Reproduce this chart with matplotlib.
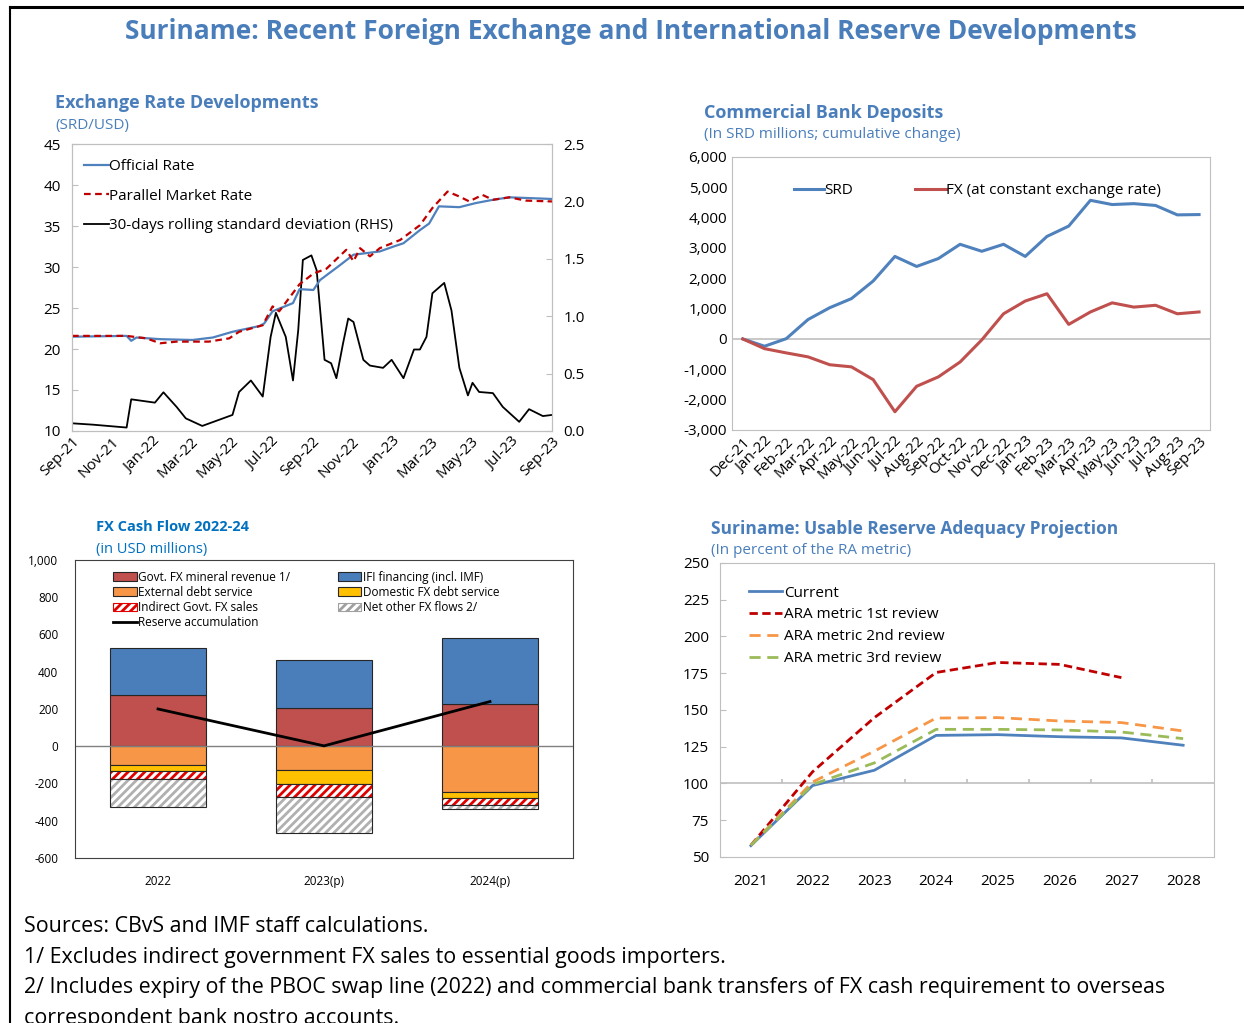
import numpy as np
import pandas as pd
import matplotlib
matplotlib.use("Agg")
import matplotlib.pyplot as plt
import matplotlib.dates as mdates
from matplotlib.lines import Line2D
from matplotlib.patches import Patch

plt.rcParams['font.family'] = ['Open Sans', 'DejaVu Sans']
plt.rcParams['hatch.linewidth'] = 2.0

# ---- data: exchange rate developments (SRD/USD) ----
official_dates = ['2021-09-01', '2021-11-23', '2021-11-30', '2021-12-08', '2022-01-13',
                  '2022-03-03', '2022-04-03', '2022-05-03', '2022-06-13', '2022-06-20',
                  '2022-07-03', '2022-08-03', '2022-08-13', '2022-09-03', '2022-09-13',
                  '2022-10-13', '2022-11-03', '2022-11-23', '2022-12-13', '2023-01-03',
                  '2023-01-18', '2023-02-12', '2023-02-26', '2023-03-13', '2023-04-13',
                  '2023-05-08', '2023-06-03', '2023-06-28', '2023-09-01']
official_rate = [21.5, 21.6, 21.0, 21.4, 21.2, 21.1, 21.4, 22.1, 22.8, 23.1,
                 24.6, 25.6, 27.3, 27.2, 28.4, 30.2, 31.5, 31.7, 31.9, 32.5,
                 32.9, 34.5, 35.3, 37.4, 37.3, 37.8, 38.2, 38.5, 38.3]

parallel_dates = ['2021-09-01', '2021-11-23', '2021-12-23', '2022-01-13', '2022-02-07',
                  '2022-03-28', '2022-04-28', '2022-05-13', '2022-06-18', '2022-07-03',
                  '2022-07-13', '2022-08-13', '2022-09-03', '2022-09-23', '2022-10-23',
                  '2022-11-03', '2022-11-13', '2022-11-28', '2022-12-13', '2023-01-13',
                  '2023-02-12', '2023-03-03', '2023-03-26', '2023-04-13', '2023-04-28',
                  '2023-05-18', '2023-06-03', '2023-06-28', '2023-07-23', '2023-09-01']
parallel_rate = [21.6, 21.6, 21.3, 20.7, 20.9, 20.9, 21.3, 22.1, 22.9, 25.2,
                 24.6, 27.9, 29.2, 29.8, 32.1, 30.7, 32.3, 31.3, 32.3, 33.3,
                 35.1, 37.2, 39.2, 38.6, 38.0, 38.8, 38.2, 38.5, 38.1, 38.0]

std_dates = ['2021-09-01', '2021-10-03', '2021-11-23', '2021-11-30', '2022-01-05',
             '2022-01-18', '2022-02-07', '2022-02-21', '2022-03-18', '2022-05-03',
             '2022-05-13', '2022-05-31', '2022-06-18', '2022-06-30', '2022-07-08',
             '2022-07-23', '2022-08-03', '2022-08-11', '2022-08-18', '2022-08-31',
             '2022-09-08', '2022-09-20', '2022-09-30', '2022-10-08', '2022-10-18',
             '2022-10-26', '2022-11-03', '2022-11-18', '2022-11-28', '2022-12-18',
             '2022-12-31', '2023-01-18', '2023-02-03', '2023-02-12', '2023-02-22',
             '2023-03-03', '2023-03-21', '2023-04-01', '2023-04-13', '2023-04-26',
             '2023-05-03', '2023-05-13', '2023-06-03', '2023-06-18', '2023-07-13',
             '2023-07-28', '2023-08-18', '2023-09-01']
rolling_std = [0.067, 0.055, 0.03, 0.276, 0.247, 0.337, 0.21, 0.11, 0.044, 0.14,
               0.34, 0.44, 0.30, 0.82, 1.03, 0.82, 0.44, 0.88, 1.49, 1.53,
               1.40, 0.62, 0.59, 0.46, 0.76, 0.98, 0.95, 0.62, 0.57, 0.55,
               0.62, 0.46, 0.71, 0.71, 0.82, 1.20, 1.29, 1.05, 0.55, 0.31,
               0.42, 0.34, 0.33, 0.21, 0.08, 0.19, 0.13, 0.14]

# ---- data: commercial bank deposits ----
deposit_months = ['Dec-21', 'Jan-22', 'Feb-22', 'Mar-22', 'Apr-22', 'May-22', 'Jun-22',
                  'Jul-22', 'Aug-22', 'Sep-22', 'Oct-22', 'Nov-22', 'Dec-22', 'Jan-23',
                  'Feb-23', 'Mar-23', 'Apr-23', 'May-23', 'Jun-23', 'Jul-23', 'Aug-23',
                  'Sep-23']
srd_deposits = [0, -240, 10, 640, 1030, 1330, 1910, 2720, 2390, 2650, 3120, 2890,
                3120, 2720, 3380, 3720, 4570, 4430, 4460, 4400, 4090, 4100]
fx_deposits = [0, -320, -460, -590, -850, -920, -1340, -2400, -1560, -1250, -760, -30,
               830, 1250, 1490, 480, 890, 1190, 1050, 1110, 830, 890]

# ---- data: FX cash flow 2022-24 (USD millions) ----
cf_years = ['2022', '2023(p)', '2024(p)']
mineral_revenue = [273, 203, 228]
ifi_financing = [254, 259, 353]
external_debt = [-99, -130, -248]
domestic_debt = [-36, -71, -31]
indirect_sales = [-41, -74, -39]
net_other = [-151, -189, -20]
reserve_accum = [200, 2, 240]

# ---- data: usable reserve adequacy ----
ra_years = ['2021', '2022', '2023', '2024', '2025', '2026', '2027', '2028']
ra_current = [57.7, 98.6, 109.0, 132.7, 133.2, 131.8, 131.0, 126.0]
ra_first = [58.0, 108.0, 144.8, 175.5, 182.3, 181.0, 172.0]
ra_second = [58.0, 101.0, 122.0, 144.5, 144.8, 142.5, 141.4, 135.7]
ra_third = [58.0, 99.3, 114.0, 136.8, 136.8, 136.4, 135.0, 130.5]

BLUE = '#4F81BD'
TITLE_BLUE = '#4A7EBB'
BRIGHT_BLUE = '#0070C0'
GRID = '#BFBFBF'

fig = plt.figure(figsize=(12.44, 10.23), dpi=100)

# frame lines (top and left)
fig.add_artist(Line2D([0.008, 1.0], [0.9935, 0.9935], color='black', lw=2.2))
fig.add_artist(Line2D([0.008, 0.008], [0.0, 0.9935], color='black', lw=1.5))

fig.text(0.507, 0.969, 'Suriname: Recent Foreign Exchange and International Reserve Developments',
         ha='center', va='center', fontsize=19, fontweight='bold', color=TITLE_BLUE)


def panel_title(x, y, title, sub, color, tsize, ssize):
    fig.text(x, y, title, ha='left', va='center', fontsize=tsize, fontweight='bold', color=color)
    fig.text(x, y - 0.0215, sub, ha='left', va='center', fontsize=ssize, color=color)


# ---------------- panel 1: exchange rate ----------------
ax1 = fig.add_axes([0.0579, 0.5787, 0.3859, 0.2805])
ax1r = ax1.twinx()
d_off = pd.to_datetime(official_dates)
d_par = pd.to_datetime(parallel_dates)
d_std = pd.to_datetime(std_dates)
l_std, = ax1r.plot(d_std, rolling_std, color='black', lw=1.3)
l_off, = ax1.plot(d_off, official_rate, color=BLUE, lw=1.6)
l_par, = ax1.plot(d_par, parallel_rate, color='#C00000', lw=1.6, ls=(0, (3, 2)))
ax1.set_zorder(ax1r.get_zorder() + 1)
ax1.patch.set_visible(False)
ax1.set_ylim(10, 45)
ax1r.set_ylim(0, 2.5)
ax1.set_xlim(pd.Timestamp('2021-09-01'), pd.Timestamp('2023-09-01'))
ax1.xaxis.set_major_locator(mdates.MonthLocator(bymonth=[1, 3, 5, 7, 9, 11]))
ax1.xaxis.set_major_formatter(mdates.DateFormatter('%b-%y'))
ax1.set_yticks(np.arange(10, 46, 5))
ax1r.set_yticks(np.arange(0, 2.51, 0.5))
ax1r.yaxis.set_major_formatter(plt.FormatStrFormatter('%.1f'))
for a in (ax1, ax1r):
    for s in a.spines.values():
        s.set_color(GRID)
    a.tick_params(axis='y', direction='in', length=4, color=GRID, labelsize=11, pad=8)
ax1.tick_params(axis='x', length=0, labelsize=11, pad=2)
plt.setp(ax1.get_xticklabels(), rotation=45, ha='right', rotation_mode='anchor')
ax1.legend([l_off, l_par, l_std],
           ['Official Rate', 'Parallel Market Rate', '30-days rolling standard deviation (RHS)'],
           loc='upper left', bbox_to_anchor=(0.0, 0.99), frameon=False, fontsize=11,
           handlelength=1.6, handletextpad=0.0, labelspacing=0.95, borderaxespad=0.4)
panel_title(0.0442, 0.8993, 'Exchange Rate Developments', '(SRD/USD)', TITLE_BLUE, 13, 11)

# ---------------- panel 2: deposits ----------------
ax2 = fig.add_axes([0.5884, 0.5797, 0.3842, 0.2669])
xd = np.arange(len(deposit_months))
ax2.axhline(0, color=GRID, lw=1.2)
ax2.plot(xd, srd_deposits, color=BLUE, lw=2.2, label='SRD')
ax2.plot(xd, fx_deposits, color='#C0504D', lw=2.2, label='FX (at constant exchange rate)')
ax2.set_xlim(-0.5, len(deposit_months) - 0.5)
ax2.set_ylim(-3000, 6000)
ax2.set_yticks(np.arange(-3000, 6001, 1000))
ax2.yaxis.set_major_formatter(plt.FuncFormatter(lambda v, p: f'{v:,.0f}'))
ax2.set_xticks(xd)
ax2.set_xticklabels(deposit_months, rotation=45, ha='right', rotation_mode='anchor')
for s in ax2.spines.values():
    s.set_color(GRID)
ax2.tick_params(axis='both', length=0, labelsize=11)
ax2.tick_params(axis='x', pad=3)
ax2.legend(loc='upper left', bbox_to_anchor=(0.1, 0.955), ncol=2, frameon=False, fontsize=11,
           handlelength=2.0, handletextpad=0.0, columnspacing=4.1)
panel_title(0.566, 0.8897, 'Commercial Bank Deposits', '(In SRD millions; cumulative change)',
            TITLE_BLUE, 13, 11)

# ---------------- panel 3: FX cash flow ----------------
ax3 = fig.add_axes([0.0603, 0.1613, 0.4003, 0.2913])
xc = np.arange(len(cf_years))
w = 0.58
edge = '#262626'
ax3.bar(xc, mineral_revenue, w, color='#C0504D', edgecolor=edge, lw=0.8)
ax3.bar(xc, ifi_financing, w, bottom=mineral_revenue, color='#4A7EBB', edgecolor=edge, lw=0.8)
ax3.bar(xc, external_debt, w, color='#F79646', edgecolor=edge, lw=0.8)
b2 = np.array(external_debt)
ax3.bar(xc, domestic_debt, w, bottom=b2, color='#FFC000', edgecolor=edge, lw=0.8)
b3 = b2 + np.array(domestic_debt)
ax3.bar(xc, indirect_sales, w, bottom=b3, color='white', edgecolor='#E00000', hatch='////', lw=0)
ax3.bar(xc, indirect_sales, w, bottom=b3, fill=False, edgecolor=edge, lw=0.8)
b4 = b3 + np.array(indirect_sales)
ax3.bar(xc, net_other, w, bottom=b4, color='white', edgecolor='#B0B0B0', hatch='////', lw=0)
ax3.bar(xc, net_other, w, bottom=b4, fill=False, edgecolor=edge, lw=0.8)
ax3.axhline(0, color='#808080', lw=1.0)
ax3.plot(xc, reserve_accum, color='black', lw=2.0)
ax3.set_xlim(-0.5, len(cf_years) - 0.5)
ax3.set_ylim(-600, 1000)
ax3.set_yticks(np.arange(-600, 1001, 200))
ax3.yaxis.set_major_formatter(plt.FuncFormatter(lambda v, p: f'{v:,.0f}'))
ax3.set_xticks(xc)
ax3.set_xticklabels(cf_years)
for s in ax3.spines.values():
    s.set_color('#404040')
ax3.tick_params(axis='both', length=0, labelsize=8.5)
ax3.tick_params(axis='x', pad=12)
ax3.tick_params(axis='y', pad=12)
h3 = [Patch(facecolor='#C0504D', edgecolor=edge, lw=0.8),
      Patch(facecolor='#F79646', edgecolor=edge, lw=0.8),
      Patch(facecolor='white', edgecolor='#E00000', hatch='////', lw=0.8),
      Line2D([], [], color='black', lw=2.0),
      Patch(facecolor='#4A7EBB', edgecolor=edge, lw=0.8),
      Patch(facecolor='#FFC000', edgecolor=edge, lw=0.8),
      Patch(facecolor='white', edgecolor='#A0A0A0', hatch='////', lw=0.8)]
lab3 = ['Govt. FX mineral revenue 1/', 'External debt service', 'Indirect Govt. FX sales',
        'Reserve accumulation', 'IFI financing (incl. IMF)', 'Domestic FX debt service',
        'Net other FX flows 2/']
ax3.legend(h3, lab3, loc='upper left', bbox_to_anchor=(0.055, 1.0), ncol=2, frameon=False,
           fontsize=8.5, handlelength=2.0, handleheight=0.7, handletextpad=0.15,
           labelspacing=0.18, columnspacing=4.0)
panel_title(0.0772, 0.4848, 'FX Cash Flow 2022-24', '(in USD millions)', BRIGHT_BLUE, 10.5, 10.5)

# ---------------- panel 4: reserve adequacy ----------------
ax4 = fig.add_axes([0.5788, 0.1623, 0.3971, 0.2874])
xr = np.arange(len(ra_years))
ax4.axhline(100, color=GRID, lw=1.2)
ax4.vlines(xr[:-1] + 0.5, 100, 103, color=GRID, lw=1.2)
ax4.plot(xr, ra_current, color=BLUE, lw=2.0, label='Current')
ax4.plot(xr[:len(ra_first)], ra_first, color='#C00000', lw=2.0, ls=(0, (3, 1.6)),
         label='ARA metric 1st review')
ax4.plot(xr, ra_second, color='#F79646', lw=2.0, ls=(0, (4, 2.4)), label='ARA metric 2nd review')
ax4.plot(xr, ra_third, color='#9BBB59', lw=2.0, ls=(0, (4, 2.4)), label='ARA metric 3rd review')
ax4.set_xlim(-0.5, len(ra_years) - 0.5)
ax4.set_ylim(50, 250)
ax4.set_yticks(np.arange(50, 251, 25))
ax4.set_xticks(xr)
ax4.set_xticklabels(ra_years)
for s in ax4.spines.values():
    s.set_color(GRID)
ax4.tick_params(axis='y', direction='in', length=4, color=GRID, labelsize=11, pad=8)
ax4.tick_params(axis='x', length=0, labelsize=11, pad=12)
ax4.legend(loc='upper left', bbox_to_anchor=(0.03, 0.97), frameon=False, fontsize=11,
           handlelength=2.2, handletextpad=0.1, labelspacing=0.45)
panel_title(0.5715, 0.4829, 'Suriname: Usable Reserve Adequacy Projection',
            '(In percent of the RA metric)', TITLE_BLUE, 12.5, 11)

# ---------------- footnotes ----------------
notes = ['Sources: CBvS and IMF staff calculations.',
         '1/ Excludes indirect government FX sales to essential goods importers.',
         '2/ Includes expiry of the PBOC swap line (2022) and commercial bank transfers of FX cash requirement to overseas',
         'correspondent bank nostro accounts.']
for i, t in enumerate(notes):
    fig.text(0.0193, 1 - (927 + 30.5 * i) / 1023, t, ha='left', va='center', fontsize=15.4, color='black')

fig.savefig('out.png', dpi=100)
